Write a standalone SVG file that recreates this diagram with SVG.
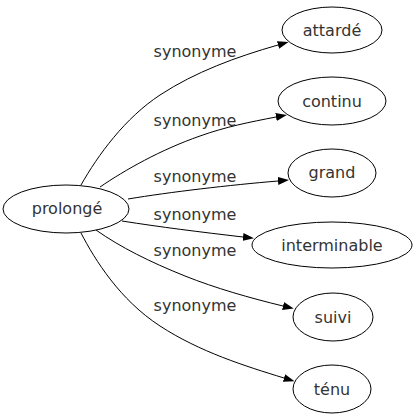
<svg xmlns="http://www.w3.org/2000/svg" width="418" height="419" viewBox="0 0 418 419">
<style>
.node ellipse{fill:#fff;stroke:#000;stroke-width:1}
text{font-family:"DejaVu Sans",sans-serif;font-size:16px;fill:#333;text-anchor:middle}
.edges path{fill:none;stroke:#000;stroke-width:1;marker-end:url(#arr)}
</style>
<defs>
<marker id="arr" viewBox="0 0 11 8" refX="0" refY="4" markerWidth="11" markerHeight="8" markerUnits="userSpaceOnUse" orient="auto">
<path d="M0,0 L11,4 L0,8 z" fill="#000"/>
</marker>
</defs>
<rect width="418" height="419" fill="#fff"/>
<g class="edges">
<path d="M81,185 C98,155 125,118 160,95 C195,72 236,57 278,45"/>
<path d="M100,187 C125,170 160,150 200,136 C225,127 250,122 276,117"/>
<path d="M128,199 C170,192 230,185 278,181"/>
<path d="M122,221 C160,227 200,232 243,237"/>
<path d="M96,230 C120,247 150,262 185,276 C215,288 250,298 283,306"/>
<path d="M81,233 C95,260 120,300 160,326 C200,352 245,366 284,378"/>
<text x="195" y="57">synonyme</text>
<text x="195" y="126">synonyme</text>
<text x="195" y="182">synonyme</text>
<text x="195" y="220">synonyme</text>
<text x="195" y="256">synonyme</text>
<text x="195" y="311">synonyme</text>
</g>
<g id="node-prolonge" class="node"><ellipse cx="66" cy="209" rx="63" ry="24"/><text x="67" y="214">prolongé</text></g>
<g id="node-attarde" class="node"><ellipse cx="332" cy="30" rx="50" ry="23"/><text x="332" y="36">attardé</text></g>
<g id="node-continu" class="node"><ellipse cx="332" cy="101" rx="54" ry="24"/><text x="332" y="107">continu</text></g>
<g id="node-grand" class="node"><ellipse cx="332" cy="173" rx="44" ry="24"/><text x="332" y="178">grand</text></g>
<g id="node-interminable" class="node"><ellipse cx="332" cy="245" rx="80" ry="23"/><text x="332" y="251">interminable</text></g>
<g id="node-suivi" class="node"><ellipse cx="333" cy="317" rx="40" ry="24"/><text x="333" y="323">suivi</text></g>
<g id="node-tenu" class="node"><ellipse cx="332" cy="389" rx="39" ry="24"/><text x="332" y="395">ténu</text></g>
</svg>
